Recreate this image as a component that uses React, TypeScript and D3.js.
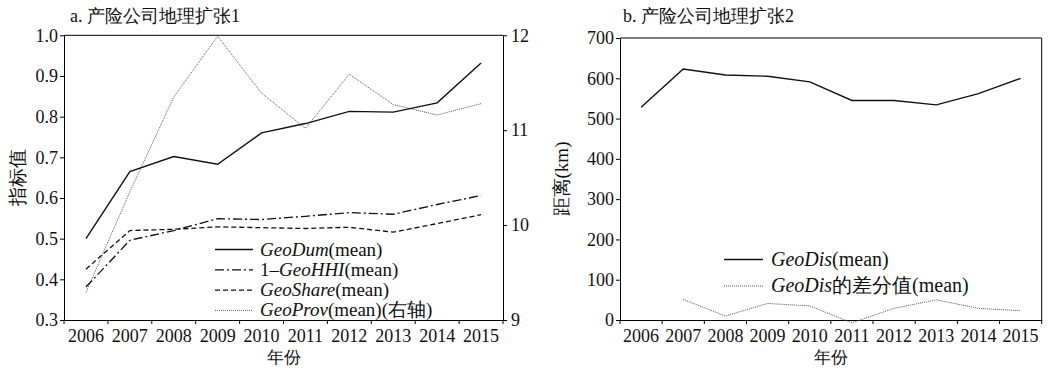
import React, { useEffect, useRef } from 'react';
import * as d3 from 'd3';

const years = ['2006', '2007', '2008', '2009', '2010', '2011', '2012', '2013', '2014', '2015'];

// panel a, left axis
const geoDum = [0.5, 0.665, 0.702, 0.683, 0.76, 0.783, 0.813, 0.811, 0.834, 0.932];
const geoHHI = [0.381, 0.496, 0.52, 0.549, 0.547, 0.555, 0.564, 0.56, 0.584, 0.606];
const geoShare = [0.425, 0.52, 0.523, 0.529, 0.527, 0.525, 0.528, 0.516, 0.537, 0.559];
// panel a, right axis
const geoProv = [9.29, 10.35, 11.35, 11.99, 11.39, 11.02, 11.59, 11.27, 11.16, 11.28];

// panel b
const geoDis = [528, 623, 608, 605, 591, 545, 545, 534, 562, 600];
const geoDisDiff = [null, 51, 10, 41, 35, -7, 29, 50, 29, 23];

const leftTicksA = [0.3, 0.4, 0.5, 0.6, 0.7, 0.8, 0.9, 1.0];
const rightTicksA = [9, 10, 11, 12];
const ticksB = [0, 100, 200, 300, 400, 500, 600, 700];

const FONT = "Liberation Serif, Tinos, Times New Roman, serif";

function App() {
  const ref = useRef<SVGSVGElement>(null);

  useEffect(() => {
    const svg = d3.select(ref.current);
    svg.selectAll('*').remove();
    svg.style('font-family', FONT);

    const styleAxis = (g: any) => {
      g.attr('font-family', null).style('font-family', FONT);
      g.selectAll('.tick text').attr('font-size', 18).attr('fill', '#111');
      g.select('.domain').attr('stroke', '#000');
    };

    // ---------- panel a ----------
    const a = { left: 64, right: 503, top: 35.3, bottom: 320 };
    const xa = d3.scaleBand().domain(years).range([a.left, a.right]);
    const ya = d3.scaleLinear().domain([0.3, 1.0]).range([a.bottom, a.top]);
    const yr = d3.scaleLinear().domain([9, 12]).range([a.bottom, a.top]);
    const cx = (d: string) => (xa(d) as number) + xa.bandwidth() / 2;

    const ga = svg.append('g');
    // frame
    ga.append('line').attr('x1', a.left).attr('x2', a.right).attr('y1', a.top).attr('y2', a.top)
      .attr('stroke', '#000').attr('stroke-width', 1);

    const bottomA = ga.append('g').attr('transform', `translate(0,${a.bottom})`)
      .call(d3.axisBottom(xa).tickSize(0).tickSizeOuter(0));
    styleAxis(bottomA);
    bottomA.selectAll('.tick text').attr('dy', '1.05em');
    const edgesA = d3.range(years.length + 1).map(i => a.left + i * xa.bandwidth());
    ga.selectAll('.xtick').data(edgesA).enter().append('line')
      .attr('x1', d => d).attr('x2', d => d).attr('y1', a.bottom).attr('y2', a.bottom + 4)
      .attr('stroke', '#000');

    const leftA = ga.append('g').attr('transform', `translate(${a.left},0)`)
      .call(d3.axisLeft(ya).tickValues(leftTicksA).tickFormat(d3.format('.1f')).tickSize(4).tickSizeOuter(0));
    styleAxis(leftA);
    leftA.selectAll('.tick text').attr('x', -6);

    const rightA = ga.append('g').attr('transform', `translate(${a.right},0)`)
      .call(d3.axisRight(yr).tickValues(rightTicksA).tickFormat(d3.format('d')).tickSize(4).tickSizeOuter(0));
    styleAxis(rightA);
    rightA.selectAll('.tick text').attr('x', 8);

    const lineA = d3.line<number>().x((_, i) => cx(years[i])).y(d => ya(d));
    const lineR = d3.line<number>().x((_, i) => cx(years[i])).y(d => yr(d));

    ga.append('path').attr('d', lineR(geoProv)).attr('fill', 'none')
      .attr('stroke', '#555').attr('stroke-width', 1).attr('stroke-dasharray', '1,1');
    ga.append('path').attr('d', lineA(geoShare)).attr('fill', 'none')
      .attr('stroke', '#111').attr('stroke-width', 1.3).attr('stroke-dasharray', '5,3');
    ga.append('path').attr('d', lineA(geoHHI)).attr('fill', 'none')
      .attr('stroke', '#111').attr('stroke-width', 1.3).attr('stroke-dasharray', '9,3,2,3');
    ga.append('path').attr('d', lineA(geoDum)).attr('fill', 'none')
      .attr('stroke', '#111').attr('stroke-width', 1.4);

    // legend a
    const legA = [
      { pre: '', it: 'GeoDum', post: '(mean)', dash: null, col: '#111' },
      { pre: '1–', it: 'GeoHHI', post: '(mean)', dash: '9,3,2,3', col: '#111' },
      { pre: '', it: 'GeoShare', post: '(mean)', dash: '5,3', col: '#111' },
      { pre: '', it: 'GeoProv', post: '(mean)(右轴)', dash: '1,1', col: '#555' },
    ];
    legA.forEach((l, i) => {
      const y = 249.5 + i * 20.3;
      ga.append('line').attr('x1', 215).attr('x2', 253).attr('y1', y).attr('y2', y)
        .attr('stroke', l.col).attr('stroke-width', l.dash === '1,1' ? 1 : 1.3)
        .attr('stroke-dasharray', l.dash);
      const t = ga.append('text').attr('x', 260).attr('y', y + 6).attr('font-size', 19).attr('fill', '#111');
      if (l.pre) t.append('tspan').text(l.pre);
      t.append('tspan').attr('font-style', 'italic').text(l.it);
      t.append('tspan').text(l.post);
    });

    ga.append('text').attr('x', 70).attr('y', 22).attr('font-size', 18).attr('fill', '#111')
      .text('a. 产险公司地理扩张1');
    ga.append('text').attr('transform', `translate(24,${(a.top + a.bottom) / 2}) rotate(-90)`)
      .attr('text-anchor', 'middle').attr('font-size', 19).attr('fill', '#111').text('指标值');
    ga.append('text').attr('x', (a.left + a.right) / 2).attr('y', 363).attr('text-anchor', 'middle')
      .attr('font-size', 17).attr('fill', '#111').text('年份');

    // ---------- panel b ----------
    const b = { left: 620, right: 1041.7, top: 38, bottom: 320 };
    const xb = d3.scaleBand().domain(years).range([b.left, b.right]);
    const yb = d3.scaleLinear().domain([0, 700]).range([b.bottom, b.top]);
    const cxb = (d: string) => (xb(d) as number) + xb.bandwidth() / 2;

    const gb = svg.append('g');
    gb.append('line').attr('x1', b.left).attr('x2', b.right).attr('y1', b.top).attr('y2', b.top).attr('stroke', '#000');
    gb.append('line').attr('x1', b.right).attr('x2', b.right).attr('y1', b.top).attr('y2', b.bottom).attr('stroke', '#000');

    const bottomB = gb.append('g').attr('transform', `translate(0,${b.bottom})`)
      .call(d3.axisBottom(xb).tickSize(0).tickSizeOuter(0));
    styleAxis(bottomB);
    bottomB.selectAll('.tick text').attr('dy', '1.05em');
    const edgesB = d3.range(years.length + 1).map(i => b.left + i * xb.bandwidth());
    gb.selectAll('.xtick').data(edgesB).enter().append('line')
      .attr('x1', d => d).attr('x2', d => d).attr('y1', b.bottom).attr('y2', b.bottom + 4)
      .attr('stroke', '#000');

    const leftB = gb.append('g').attr('transform', `translate(${b.left},0)`)
      .call(d3.axisLeft(yb).tickValues(ticksB).tickFormat(d3.format('d')).tickSize(4).tickSizeOuter(0));
    styleAxis(leftB);
    leftB.selectAll('.tick text').attr('x', -6);

    const lineB = d3.line<number | null>()
      .defined(d => d !== null)
      .x((_, i) => cxb(years[i])).y(d => yb(d as number));

    gb.append('path').attr('d', lineB(geoDisDiff)).attr('fill', 'none')
      .attr('stroke', '#555').attr('stroke-width', 1).attr('stroke-dasharray', '1,1');
    gb.append('path').attr('d', lineB(geoDis)).attr('fill', 'none')
      .attr('stroke', '#111').attr('stroke-width', 1.4);

    const legB = [
      { it: 'GeoDis', post: '(mean)', dash: null, col: '#111' },
      { it: 'GeoDis', post: '的差分值(mean)', dash: '1,1', col: '#555' },
    ];
    legB.forEach((l, i) => {
      const y = 259.5 + i * 26.5;
      gb.append('line').attr('x1', 724).attr('x2', 763).attr('y1', y).attr('y2', y)
        .attr('stroke', l.col).attr('stroke-width', l.dash ? 1 : 1.3).attr('stroke-dasharray', l.dash);
      const t = gb.append('text').attr('x', 771).attr('y', y + 6).attr('font-size', 20).attr('fill', '#111');
      t.append('tspan').attr('font-style', 'italic').text(l.it);
      t.append('tspan').text(l.post);
    });

    gb.append('text').attr('x', 623).attr('y', 22).attr('font-size', 18).attr('fill', '#111')
      .text('b. 产险公司地理扩张2');
    gb.append('text').attr('transform', `translate(568,${(b.top + b.bottom) / 2}) rotate(-90)`)
      .attr('text-anchor', 'middle').attr('font-size', 19).attr('fill', '#111').text('距离(km)');
    gb.append('text').attr('x', (b.left + b.right) / 2).attr('y', 363).attr('text-anchor', 'middle')
      .attr('font-size', 17).attr('fill', '#111').text('年份');
  }, []);

  return (
    <svg ref={ref} width={1051} height={371}
      style={{ position: 'absolute', left: 0, top: 0, background: '#fff' }} />
  );
}

export default App;
